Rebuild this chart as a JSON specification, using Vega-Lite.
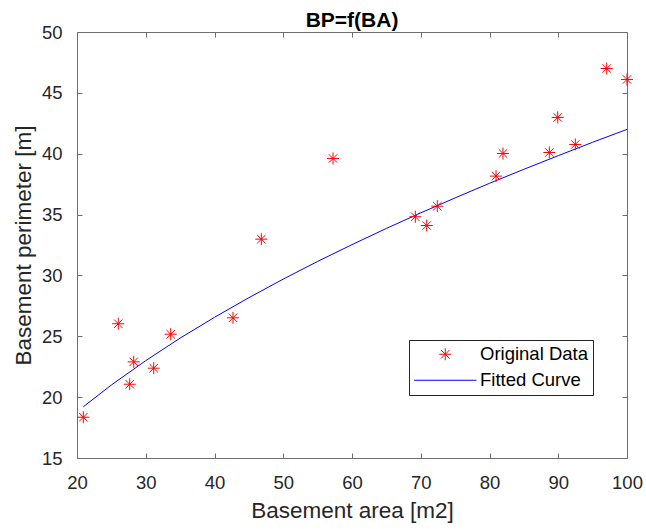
{
  "$schema": "https://vega.github.io/schema/vega-lite/v6.json",
  "autosize": {"type": "none"},
  "padding": {"left": 77, "top": 32, "right": 19, "bottom": 71},
  "width": 550,
  "height": 426,
  "background": "white",
  "title": {"text": "BP=f(BA)", "font": "Liberation Sans", "fontSize": 21, "fontWeight": "bold", "color": "#000000", "offset": -8, "anchor": "middle"},
  "config": {
    "view": {"stroke": null},
    "font": "Liberation Sans",
    "axis": {"grid": false, "labelFlush": false, "labelOverlap": false, "domainColor": "#6e6e6e", "tickColor": "#6e6e6e", "domainWidth": 1, "tickWidth": 1, "tickSize": -5, "labelPadding": 20, "labelFont": "Liberation Sans", "labelFontSize": 18.5, "labelColor": "#262626", "titleFont": "Liberation Sans", "titleFontSize": 22.5, "titleFontWeight": "normal", "titleColor": "#262626"},
    "legend": {"symbolStrokeWidth": 1}
  },
  "datasets": {
    "obs": [
      {"area": 20.92, "perimeter": 18.35, "series": "Original Data"},
      {"area": 26.0, "perimeter": 26.03, "series": "Original Data"},
      {"area": 27.67, "perimeter": 21.06, "series": "Original Data"},
      {"area": 28.25, "perimeter": 22.9, "series": "Original Data"},
      {"area": 31.16, "perimeter": 22.38, "series": "Original Data"},
      {"area": 33.63, "perimeter": 25.17, "series": "Original Data"},
      {"area": 42.69, "perimeter": 26.52, "series": "Original Data"},
      {"area": 46.81, "perimeter": 32.98, "series": "Original Data"},
      {"area": 57.24, "perimeter": 39.61, "series": "Original Data"},
      {"area": 69.21, "perimeter": 34.82, "series": "Original Data"},
      {"area": 70.87, "perimeter": 34.1, "series": "Original Data"},
      {"area": 72.41, "perimeter": 35.69, "series": "Original Data"},
      {"area": 80.95, "perimeter": 38.16, "series": "Original Data"},
      {"area": 81.96, "perimeter": 40.02, "series": "Original Data"},
      {"area": 88.7, "perimeter": 40.1, "series": "Original Data"},
      {"area": 89.92, "perimeter": 42.98, "series": "Original Data"},
      {"area": 92.48, "perimeter": 40.76, "series": "Original Data"},
      {"area": 97.05, "perimeter": 47.0, "series": "Original Data"},
      {"area": 100.0, "perimeter": 46.1, "series": "Original Data"}
    ],
    "fit": [
      {"area": 20.92, "perimeter": 19.21, "series": "Fitted Curve"},
      {"area": 25, "perimeter": 21.0, "series": "Fitted Curve"},
      {"area": 30, "perimeter": 23.0, "series": "Fitted Curve"},
      {"area": 35, "perimeter": 24.85, "series": "Fitted Curve"},
      {"area": 40, "perimeter": 26.56, "series": "Fitted Curve"},
      {"area": 45, "perimeter": 28.17, "series": "Fitted Curve"},
      {"area": 50, "perimeter": 29.7, "series": "Fitted Curve"},
      {"area": 55, "perimeter": 31.15, "series": "Fitted Curve"},
      {"area": 60, "perimeter": 32.53, "series": "Fitted Curve"},
      {"area": 65, "perimeter": 33.86, "series": "Fitted Curve"},
      {"area": 70, "perimeter": 35.14, "series": "Fitted Curve"},
      {"area": 75, "perimeter": 36.37, "series": "Fitted Curve"},
      {"area": 80, "perimeter": 37.57, "series": "Fitted Curve"},
      {"area": 85, "perimeter": 38.72, "series": "Fitted Curve"},
      {"area": 90, "perimeter": 39.84, "series": "Fitted Curve"},
      {"area": 95, "perimeter": 40.94, "series": "Fitted Curve"},
      {"area": 100, "perimeter": 42.0, "series": "Fitted Curve"}
    ]
  },
  "layer": [
    {
      "data": {"name": "fit"},
      "mark": {"type": "line", "strokeWidth": 1, "clip": true},
      "encoding": {
        "x": {"field": "area", "type": "quantitative", "scale": {"domain": [20, 100], "nice": false, "zero": false}, "axis": {"orient": "top", "labels": false, "title": null, "values": [20, 30, 40, 50, 60, 70, 80, 90, 100]}},
        "y": {"field": "perimeter", "type": "quantitative", "scale": {"domain": [15, 50], "nice": false, "zero": false}, "axis": {"orient": "right", "labels": false, "title": null, "values": [15, 20, 25, 30, 35, 40, 45, 50]}},
        "color": {"field": "series", "type": "nominal", "scale": {"domain": ["Original Data", "Fitted Curve"], "range": ["#ff0000", "#0000ff"]}}
      }
    },
    {
      "data": {"name": "obs"},
      "mark": {"type": "point", "filled": false, "strokeWidth": 1, "size": 144, "opacity": 1, "clip": false},
      "encoding": {
        "x": {"field": "area", "type": "quantitative", "axis": {"orient": "bottom", "title": "Basement area [m2]", "titlePadding": 8, "values": [20, 30, 40, 50, 60, 70, 80, 90, 100]}},
        "y": {"field": "perimeter", "type": "quantitative", "axis": {"orient": "left", "title": "Basement perimeter [m]", "titlePadding": 6, "values": [15, 20, 25, 30, 35, 40, 45, 50]}},
        "color": {"field": "series", "type": "nominal",
          "legend": {"title": null, "orient": "none", "legendX": 332, "legendY": 308, "padding": 5, "strokeColor": "#262626", "fillColor": "#ffffff", "labelFontSize": 18.5, "labelColor": "#000000", "labelFont": "Liberation Sans", "symbolSize": 144, "symbolOffset": 22, "labelOffset": 25.5, "rowPadding": 7, "symbolFillColor": "transparent", "symbolStrokeWidth": 1}},
        "shape": {"field": "series", "type": "nominal", "scale": {"domain": ["Original Data", "Fitted Curve"], "range": ["M-1,0L1,0M0,-1L0,1M-0.7,-0.7L0.7,0.7M-0.7,0.7L0.7,-0.7", "M-5.2,0L5.2,0"]}, "legend": {"title": null}}
      }
    }
  ],
  "resolve": {"axis": {"x": "independent", "y": "independent"}}
}
